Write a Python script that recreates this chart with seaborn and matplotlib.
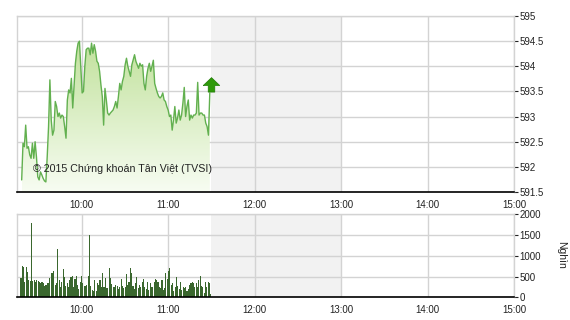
import numpy as np
import pandas as pd
import matplotlib
matplotlib.use("Agg")
import matplotlib.pyplot as plt
from matplotlib.path import Path
import seaborn as sns

# Intraday index level (morning session)
price = [
    591.74, 592.47, 592.40, 592.83, 592.37, 592.40, 592.24, 592.17, 592.47, 592.17,
    592.50, 592.20, 591.80, 591.74, 591.90, 591.84, 591.77, 591.72, 591.70, 592.20,
    592.80, 593.73, 592.93, 592.63, 592.73, 593.30, 593.20, 593.00, 593.07, 592.97,
    593.03, 593.00, 592.80, 592.57, 593.33, 593.53, 593.47, 593.76, 593.17, 593.60,
    594.06, 594.30, 594.46, 594.50, 594.00, 593.47, 593.50, 594.00, 594.33, 594.36,
    594.36, 594.23, 594.46, 594.26, 594.43, 594.30, 594.10, 594.06, 593.90, 593.63,
    593.40, 592.83, 593.56, 593.33, 593.07, 593.03, 593.07, 593.10, 593.13, 593.20,
    593.30, 593.17, 593.40, 593.66, 593.53, 593.70, 593.80, 594.03, 594.16, 594.00,
    593.90, 593.80, 594.03, 594.13, 594.23, 594.10, 594.03, 593.96, 594.06, 594.00,
    594.03, 593.66, 593.53, 593.80, 593.96, 594.06, 593.90, 594.00, 594.12, 593.66,
    593.56, 593.47, 593.40, 593.37, 593.40, 593.47, 593.33, 593.30, 593.20, 593.13,
    593.00, 593.03, 592.73, 592.93, 593.20, 592.87, 592.97, 593.13, 592.93, 593.03,
    593.27, 593.58, 593.00, 593.20, 593.33, 592.93, 593.03, 592.97, 593.03, 593.03,
    593.07, 593.68, 593.03, 593.07, 593.07, 593.03, 593.03, 592.87, 592.80, 592.63,
    593.47,
]
price_start, price_end = "09:18:15", "11:28:50"

# Matched volume, thousands of shares
volume = [
    470, 750, 740, 380, 740, 620, 420, 400, 1800, 390,
    420, 380, 420, 390, 380, 340, 380, 350, 270, 300,
    340, 350, 470, 590, 580, 640, 300, 340, 1160, 420,
    240, 380, 680, 500, 270, 350, 260, 420, 500, 510,
    260, 430, 510, 300, 190, 380, 510, 340, 270, 270,
    300, 520, 1500, 270, 180, 140, 420, 160, 350, 300,
    420, 260, 590, 240, 460, 230, 220, 700, 460, 320,
    260, 240, 300, 270, 190, 240, 430, 270, 220, 240,
    560, 300, 380, 700, 580, 270, 190, 340, 480, 220,
    300, 240, 380, 430, 240, 190, 380, 180, 340, 240,
    240, 380, 430, 420, 380, 260, 220, 420, 180, 220,
    580, 430, 640, 700, 300, 340, 140, 240, 500, 270,
    190, 380, 180, 260, 220, 240, 140, 190, 300, 340,
    380, 340, 240, 350, 240, 420, 510, 270, 240, 110,
    380, 240, 380, 350, 70,
]
volume_start, volume_end = "09:17:45", "11:29:30"

price_ticks = [591.5, 592, 592.5, 593, 593.5, 594, 594.5, 595]
price_labels = ["591.5", "592", "592.5", "593", "593.5", "594", "594.5", "595"]
volume_ticks = [0, 500, 1000, 1500, 2000]
hour_ticks = [10, 11, 12, 13, 14, 15]
hour_labels = ["10:00", "11:00", "12:00", "13:00", "14:00", "15:00"]
lunch_break = (11.5, 13.0)
watermark = "© 2015 Chứng khoán Tân Việt (TVSI)"
volume_unit = "Nghìn"


def to_hours(start, end, n):
    t = pd.date_range(f"2015-01-01 {start}", f"2015-01-01 {end}", periods=n)
    return np.asarray(t.hour + t.minute / 60 + t.second / 3600, dtype=float)


sns.set_theme(style="white")
plt.rcParams["font.family"] = ["Liberation Sans", "DejaVu Sans"]
plt.rcParams["font.size"] = 7

GRID = "#d3d3d3"
SHADE = "#f2f2f2"
LINE = "#62b04f"
BAR = "#3a672e"

fig = plt.figure(figsize=(5.7, 3.2), dpi=100)
ax = fig.add_axes([17 / 570, 1 - 192 / 320, 497 / 570, 176 / 320])
axv = fig.add_axes([17 / 570, 1 - 297.3 / 320, 497 / 570, 83 / 320])

ph = to_hours(price_start, price_end, len(price))
vh = to_hours(volume_start, volume_end, len(volume))

for a in (ax, axv):
    a.set_facecolor("white")
    a.axvspan(*lunch_break, color=SHADE, zorder=0, lw=0)
    a.set_xlim(9.25, 15.0)
    a.grid(True, color=GRID, linewidth=1, zorder=0.5)
    a.set_axisbelow(True)
    a.yaxis.tick_right()
    a.set_xticks(hour_ticks)
    a.set_xticklabels(hour_labels)
    a.tick_params(axis="x", length=0, pad=5.5, labelsize=7, colors="#222222")
    a.tick_params(axis="y", length=3, width=0.8, pad=1, labelsize=7,
                  colors="#222222", right=True, left=False, direction="out")
    for side in ("left", "top", "right"):
        a.spines[side].set_color(GRID)
        a.spines[side].set_linewidth(1)
    a.spines["bottom"].set_color("black")
    a.spines["bottom"].set_linewidth(1.2)
    a.set_xlabel("")
    a.set_ylabel("")

# Price line with a soft green gradient fill underneath
ax.set_ylim(591.5, 595)
ax.set_yticks(price_ticks)
ax.set_yticklabels(price_labels)
fill = ax.fill_between(ph, price, 591.5, color="none", lw=0, zorder=1)
grad = np.linspace(0, 1, 256).reshape(-1, 1)
top = np.array([0.75, 0.88, 0.60])
bottom = np.array([0.97, 0.99, 0.95])
img = bottom + (top - bottom) * grad[..., None]
im = ax.imshow(img, extent=[ph[0], ph[-1], 591.5, 594.6], origin="lower",
               aspect="auto", zorder=1, interpolation="bilinear")
im.set_clip_path(fill.get_paths()[0], transform=ax.transData)
sns.lineplot(x=ph, y=price, ax=ax, color=LINE, linewidth=1, zorder=3)
ax.set_xlim(9.25, 15.0)
ax.set_ylim(591.5, 595)
ax.set_xlabel("")
ax.set_ylabel("")

# Up arrow marking the latest change
arrow = Path([(-0.5, 0.0), (0.0, 0.48), (0.5, 0.0), (0.2, 0.0), (0.2, -0.4),
              (-0.2, -0.4), (-0.2, 0.0), (-0.5, 0.0)])
ax.scatter([11.5], [price[-1] + 0.16], marker=arrow, s=140,
           color="#2f9a0a", edgecolor="#1f7a05", linewidth=0.5, zorder=5)

ax.text(10.465, 591.95, watermark, ha="center", va="center", fontsize=7.7,
        color="#222222", zorder=4)

# Volume bars
sns.barplot(x=vh, y=volume, ax=axv, native_scale=True, color=BAR,
            width=0.85, errorbar=None, linewidth=0, saturation=1, zorder=2)
for p in axv.patches:
    p.set_antialiased(False)
axv.set_xlim(9.25, 15.0)
axv.set_ylim(0, 2000)
axv.set_yticks(volume_ticks)
axv.set_yticklabels([str(v) for v in volume_ticks])
axv.set_xticks(hour_ticks)
axv.set_xticklabels(hour_labels)
axv.set_xlabel("")
axv.set_ylabel("")

fig.text(561 / 570, 1 - 255 / 320, volume_unit, rotation=270, ha="center",
         va="center", fontsize=7.5, color="#222222")

fig.savefig("out.png", dpi=100, facecolor="white")
